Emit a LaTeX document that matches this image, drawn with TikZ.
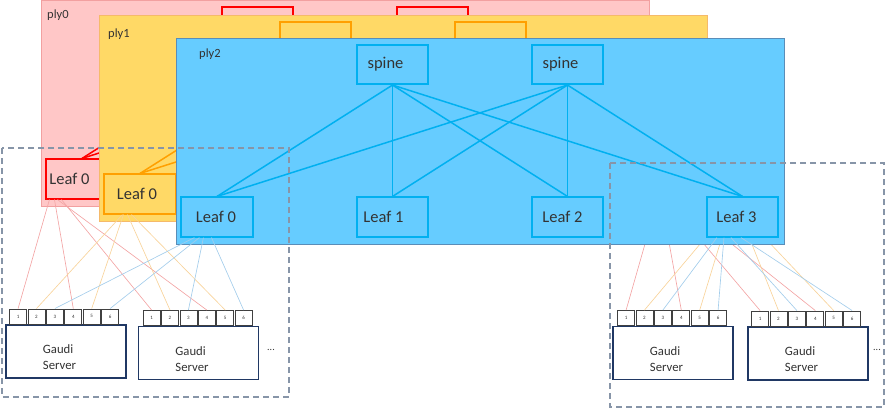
\documentclass[tikz,border=0pt]{standalone}
\usepackage{fontspec}
\setmainfont{Carlito}
\usetikzlibrary{calc}
\definecolor{pinkfill}{HTML}{FFC7C7}
\definecolor{pinkedge}{HTML}{F2A0A0}
\definecolor{yelfill}{HTML}{FFD966}
\definecolor{yeledge}{HTML}{F5BA6A}
\definecolor{bluefill}{HTML}{66CCFF}
\definecolor{blueedge}{HTML}{5A8DB8}
\definecolor{redbox}{HTML}{FF0000}
\definecolor{orgbox}{HTML}{FFA000}
\definecolor{cyanbox}{HTML}{00B0F0}
\definecolor{txt}{HTML}{333333}
\definecolor{navy}{HTML}{203864}
\definecolor{dashgray}{HTML}{8795A8}
\definecolor{cabred}{HTML}{F3A5A5}
\definecolor{cabyel}{HTML}{F8D39A}
\definecolor{cabblue}{HTML}{A3CDEB}
\definecolor{portedge}{HTML}{404040}

\newcommand\plylayer[9]{%
\begin{scope}[shift={#2}]
  \node[plyrect={#3}{#4}, anchor=north west] (#1ply) at (176,38) {};
  \node[plylabel] (#1lab) at #7 {#6};
  \node[netbox=#5, label={[boxtext,xshift=-7pt]center:#9}] (#1s1) at (392.5,64.5) {};
  \node[netbox=#5, label={[boxtext,xshift=-7pt]center:#9}] (#1s2) at (567.5,64.5) {};
  \node[netbox=#5, label={[boxtext,xshift=#8]center:Leaf 0}] (#1l0) at (217,217) {};
  \node[netbox=#5, label={[boxtext,xshift=-9pt]center:Leaf 1}] (#1l1) at (392.5,217) {};
  \node[netbox=#5, label={[boxtext,xshift=-5pt]center:Leaf 2}] (#1l2) at (567.5,217) {};
  \node[netbox=#5, label={[boxtext,xshift=-6pt]center:Leaf 3}] (#1l3) at (742.5,217) {};
  \foreach \sp in {s1,s2}{\foreach \lf in {l0,l1,l2,l3}{\draw[link=#5] (#1\sp.south) -- (#1\lf.north);}}
\end{scope}}

\begin{document}
\begin{tikzpicture}[x=1pt,y=-1pt,
  plyrect/.style 2 args={fill=#1, draw=#2, line width=0.9pt, minimum width=608pt, minimum height=206pt, inner sep=0pt},
  plylabel/.style={font=\fontsize{12.5}{14}\selectfont, text=txt, anchor=base west, inner sep=0pt},
  netbox/.style={draw=#1, line width=1.6pt, minimum width=71.5pt, minimum height=39.5pt, inner sep=0pt},
  boxtext/.style={font=\fontsize{16.5}{18}\selectfont, text=txt, inner sep=0pt},
  link/.style={draw=#1, line width=1.5pt},
  server/.style={draw=navy, line width=1.5pt, fill=white, minimum width=120pt, minimum height=53pt, inner sep=0pt},
  srvtext/.style={font=\fontsize{12.7}{16}\selectfont, text=txt, align=left, inner sep=0pt, xshift=-6.5pt, yshift=-6pt},
  port/.style={draw=portedge, line width=0.7pt, fill=white, minimum width=17pt, minimum height=15pt, inner sep=0pt, font=\fontsize{5}{6}\selectfont, text=txt},
  cable/.style={draw=#1, line width=0.65pt},
  pod/.style={draw=dashgray, line width=1.2pt, dash pattern=on 6pt off 4pt},
  dots/.style={font=\fontsize{10}{12}\selectfont, text=txt}]
\useasboundingbox (0,0) rectangle (891,409);

% servers with ports
\node[server, label={[srvtext]center:Gaudi\\Server}] (srv1) at (66,351.5) {};
\node[server, label={[srvtext]center:Gaudi\\Server}] (srv2) at (198.5,353) {};
\node[server, label={[srvtext]center:Gaudi\\Server}] (srv3) at (673,353) {};
\node[server, label={[srvtext]center:Gaudi\\Server}] (srv4) at (808,353.5) {};
\foreach \s/\o in {srv1/4,srv2/5,srv3/5,srv4/4}{
  \foreach \i in {1,...,6}{
    \node[port, anchor=south west] (\s p\i) at ($(\s.north west)+({\o+(\i-1)*18.4},0)$) {\i};
  }
}
\node[dots] (more1) at (271,350) {...};
\node[dots] (more2) at (877,350) {...};

% hidden start points of the cables of ply0 and ply1 at leaf 3 (under ply2)
\coordinate (rA) at (647,237);
\coordinate (rB) at (668,237);
\coordinate (rC) at (698,237);
\coordinate (rD) at (723,237);
\coordinate (yA) at (706,237);
\coordinate (yB) at (722,237);
\coordinate (yC) at (749,237);
\coordinate (yD) at (764,237);

% ply0
\plylayer{r}{(-135,-38)}{pinkfill}{pinkedge}{redbox}{ply0}{(182,57)}{-12.5pt}{}
\draw[cable=cabred] ($(rl0.south west)+(4,0)$) -- (srv1p1.north);
\draw[cable=cabred] ($(rl0.south west)+(9,0)$) -- (srv1p4.north);
\draw[cable=cabred] ($(rl0.south west)+(12,0)$) -- (srv2p4.north);
\draw[cable=cabred] ($(rl0.south west)+(16,0)$) -- (srv2p1.north);
\draw[cable=cabred] (rA) -- (srv3p1.north);
\draw[cable=cabred] (rB) -- (srv3p4.north);
\draw[cable=cabred] (rC) -- (srv4p1.north);
\draw[cable=cabred] (rD) -- (srv4p4.north);

% ply1
\plylayer{y}{(-77,-23)}{yelfill}{yeledge}{orgbox}{ply1}{(185,61)}{-3pt}{}
\draw[cable=cabyel] ($(yl0.south west)+(19,0)$) -- (srv1p2.north);
\draw[cable=cabyel] ($(yl0.south west)+(20,0)$) -- (srv1p5.north);
\draw[cable=cabyel] ($(yl0.south west)+(24,0)$) -- (srv2p2.north);
\draw[cable=cabyel] ($(yl0.south west)+(28,0)$) -- (srv2p5.north);
\draw[cable=cabyel] (yA) -- (srv3p2.north);
\draw[cable=cabyel] (yB) -- (srv3p5.north);
\draw[cable=cabyel] (yC) -- (srv4p2.north);
\draw[cable=cabyel] (yD) -- (srv4p5.north);

% ply2
\plylayer{b}{(0,0)}{bluefill}{blueedge}{cyanbox}{ply2}{(199,58)}{-1pt}{spine}
\draw[cable=cabblue] ($(bl0.south west)+(14,0)$) -- (srv1p3.north);
\draw[cable=cabblue] ($(bl0.south west)+(19,0)$) -- (srv1p6.north);
\draw[cable=cabblue] ($(bl0.south west)+(23,0)$) -- (srv2p3.north);
\draw[cable=cabblue] ($(bl0.south west)+(31,0)$) -- (srv2p6.north);
\draw[cable=cabblue] ($(bl3.south west)+(11,0)$) -- (srv3p3.north);
\draw[cable=cabblue] ($(bl3.south west)+(18,0)$) -- (srv3p6.north);
\draw[cable=cabblue] ($(bl3.south west)+(25,0)$) -- (srv4p3.north);
\draw[cable=cabblue] ($(bl3.south west)+(35,0)$) -- (srv4p6.north);

% dashed pods
\draw[pod] (2,148) rectangle (289,397);
\draw[pod] (610,163) rectangle (884,407);
\end{tikzpicture}
\end{document}
